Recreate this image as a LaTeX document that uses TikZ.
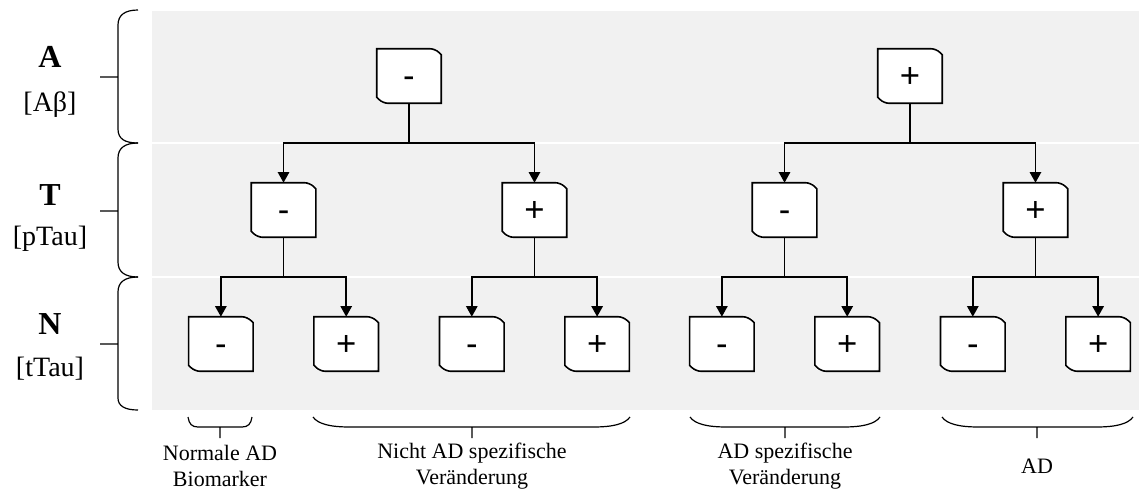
\documentclass[tikz,border=0pt]{standalone}
\usepackage{fontspec}
\setmainfont{Liberation Serif}
\setsansfont{Liberation Sans}
\usetikzlibrary{arrows.meta}
\definecolor{bandgray}{HTML}{F1F1F1}
\tikzstyle{cell} = [rectangle,
                    rounded corners=4pt,
                    minimum width=48pt,
                    minimum height=40.5pt,
                    inner sep=0pt,
                    text height=17.5pt,
                    text depth=0pt,
                    fill=white,
                    font=\sffamily\fontsize{26}{30}\selectfont]
\tikzstyle{cellline} = [line width=1.2pt,
                        sharp corners]
\tikzstyle{arrow} = [line width=1.4pt,
                     -{Triangle[length=8pt,width=8.5pt]}]
\tikzstyle{brace} = [line width=0.9pt]
\tikzstyle{level} = [anchor=base,
                     font=\fontsize{24}{28}\selectfont\bfseries]
\tikzstyle{marker} = [anchor=base,
                      font=\fontsize{21}{25}\selectfont]
\tikzstyle{group} = [align=center,
                     font=\fontsize{16.5}{19}\selectfont]
\begin{document}
\begin{tikzpicture}[x=0.75pt, y=-0.75pt, node distance=100.5pt]
    \useasboundingbox (0,0) rectangle (1139,490);

    % background bands
    \fill[bandgray] (152,11) rectangle (1139,409.5);
    \draw[white, line width=1pt] (152,143) -- (1139,143);
    \draw[white, line width=1pt] (152,277) -- (1139,277);

    % levels on the left
    \node (la)  [level]  at (50,67)  {A};
    \node (lab) [marker] at (50,111) {[Aβ]};
    \node (lt)  [level]  at (50,205) {T};
    \node (ltb) [marker] at (50,245) {[pTau]};
    \node (ln)  [level]  at (50,334) {N};
    \node (lnb) [marker] at (50,376) {[tTau]};

    \draw[brace] (138,10) .. controls (125,10) and (118,15) .. (118,25) -- (118,129)
                 .. controls (118,139) and (125,143) .. (138,143)
                 (118,77) -- (100,77);
    \draw[brace] (138,143) .. controls (125,143) and (118,148) .. (118,158) -- (118,262)
                 .. controls (118,272) and (125,277) .. (138,277)
                 (118,211) -- (100,211);
    \draw[brace] (138,277) .. controls (125,277) and (118,282) .. (118,292) -- (118,398)
                 .. controls (118,406) and (125,410) .. (138,410)
                 (118,344) -- (100,344);

    % tree
    \node (a1) [cell] at (409,76)                {-};
    \node (a2) [cell] at (910,76)                {+};
    \node (t1) [cell, below of=a1, xshift=-94.1pt] {-};
    \node (t2) [cell, below of=a1, xshift=94.1pt]  {+};
    \node (t3) [cell, below of=a2, xshift=-94.1pt] {-};
    \node (t4) [cell, below of=a2, xshift=94.1pt]  {+};
    \node (n1) [cell, below of=t1, xshift=-47pt] {-};
    \node (n2) [cell, below of=t1, xshift=47pt]  {+};
    \node (n3) [cell, below of=t2, xshift=-47pt] {-};
    \node (n4) [cell, below of=t2, xshift=47pt]  {+};
    \node (n5) [cell, below of=t3, xshift=-47pt] {-};
    \node (n6) [cell, below of=t3, xshift=47pt]  {+};
    \node (n7) [cell, below of=t4, xshift=-47pt] {-};
    \node (n8) [cell, below of=t4, xshift=47pt]  {+};

    \foreach \c in {a1,a2,t1,t2,t3,t4,n1,n2,n3,n4,n5,n6,n7,n8}
        \draw[cellline] (\c.west) -- (\c.north west) [rounded corners=4pt]
              -- ([xshift=-4.5pt]\c.north east) [sharp corners]
              -- ([yshift=-4.5pt]\c.north east) -- (\c.south east) [rounded corners=4pt]
              -- ([xshift=4.5pt]\c.south west) [sharp corners]
              -- ([yshift=4.5pt]\c.south west) -- cycle;

    \draw [arrow] (a1.south) -- ++(0,-30pt) -| (t1.north);
    \draw [arrow] (a1.south) -- ++(0,-30pt) -| (t2.north);
    \draw [arrow] (a2.south) -- ++(0,-30pt) -| (t3.north);
    \draw [arrow] (a2.south) -- ++(0,-30pt) -| (t4.north);

    \draw [arrow] (t1.south) -- ++(0,-30pt) -| (n1.north);
    \draw [arrow] (t1.south) -- ++(0,-30pt) -| (n2.north);
    \draw [arrow] (t2.south) -- ++(0,-30pt) -| (n3.north);
    \draw [arrow] (t2.south) -- ++(0,-30pt) -| (n4.north);
    \draw [arrow] (t3.south) -- ++(0,-30pt) -| (n5.north);
    \draw [arrow] (t3.south) -- ++(0,-30pt) -| (n6.north);
    \draw [arrow] (t4.south) -- ++(0,-30pt) -| (n7.north);
    \draw [arrow] (t4.south) -- ++(0,-30pt) -| (n8.north);

    % groups below
    \draw[brace] (188,417) .. controls (189,424) and (192,427) .. (198,427) -- (242,427)
                 .. controls (248,427) and (251,424) .. (252,417)
                 (220,427) -- (220,438);
    \draw[brace] (313,417) .. controls (318,424) and (330,427) .. (350,427) -- (593,427)
                 .. controls (613,427) and (625,424) .. (630,417)
                 (472,427) -- (472,438);
    \draw[brace] (690,417) .. controls (695,424) and (707,427) .. (727,427) -- (843,427)
                 .. controls (863,427) and (875,424) .. (880,417)
                 (785,427) -- (785,438);
    \draw[brace] (942,417) .. controls (947,424) and (959,427) .. (979,427) -- (1096,427)
                 .. controls (1116,427) and (1128,424) .. (1133,417)
                 (1037,427) -- (1037,438);

    \node (g1) [group] at (220,466)  {Normale AD\\Biomarker};
    \node (g2) [group] at (472,466)  {Nicht AD spezifische\\Veränderung};
    \node (g3) [group] at (785,466)  {AD spezifische\\Veränderung};
    \node (g4) [group] at (1037,466) {AD};

\end{tikzpicture}
\end{document}
